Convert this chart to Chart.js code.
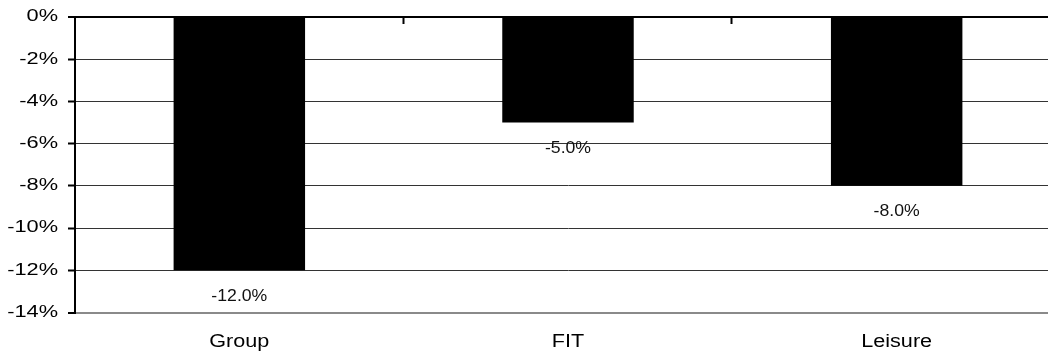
<!DOCTYPE html>
<html><head><meta charset="utf-8">
<script src="https://cdn.jsdelivr.net/npm/chart.js@4"></script>
<style>
html,body{margin:0;padding:0;background:#fff;overflow:hidden;}
#wrap{width:1061px;height:356px;position:relative;}
</style></head><body>
<div id="wrap"><canvas id="c"></canvas></div>
<script>
const categories = ['Group', 'FIT', 'Leisure'];
const changeValues = [-12.0, -5.0, -8.0];
const yMin = -14;
const yMax = 0;
const yStep = 2;

const AXIS_FONT = '"Liberation Sans", Arial, sans-serif';
const Y_FONT_SIZE = 16;
const X_FONT_SIZE = 18;
const LABEL_FONT_SIZE = 16.5;
// the reference text is horizontally stretched; widen glyphs per font size
const stretchBySize = { '16': 1.36, '18': 1.2, '16.5': 1.07 };

const canvas = document.getElementById('c');
const ctx2d = canvas.getContext('2d');
const origFillText = ctx2d.fillText.bind(ctx2d);
ctx2d.fillText = function (text, x, y, maxWidth) {
  const m = /(\d+(?:\.\d+)?)px/.exec(this.font);
  const sx = m ? (stretchBySize[String(parseFloat(m[1]))] || 1) : 1;
  this.save();
  this.translate(x, y);
  this.scale(sx, 1);
  if (maxWidth === undefined || maxWidth === null) origFillText(text, 0, 0);
  else origFillText(text, 0, 0, maxWidth / sx);
  this.restore();
};

const barLabels = {
  id: 'barLabels',
  afterDatasetsDraw(chart) {
    const ctx = chart.ctx;
    const meta = chart.getDatasetMeta(0);
    const data = chart.data.datasets[0].data;
    ctx.save();
    ctx.fillStyle = '#111';
    ctx.font = LABEL_FONT_SIZE + 'px "Liberation Sans", Arial, sans-serif';
    ctx.textAlign = 'center';
    ctx.textBaseline = 'middle';
    meta.data.forEach((bar, i) => {
      ctx.fillText(data[i].toFixed(1) + '%', bar.x, bar.y + 26);
    });
    ctx.restore();
  }
};

const topAxisTicks = {
  id: 'topAxisTicks',
  afterDraw(chart) {
    const ctx = chart.ctx;
    const xs = chart.scales.x;
    const ys = chart.scales.y;
    const y0 = ys.getPixelForValue(0);
    ctx.save();
    ctx.strokeStyle = '#000';
    ctx.lineWidth = 2;
    for (let i = 0; i < categories.length - 1; i++) {
      const bx = Math.round((xs.getPixelForValue(i) + xs.getPixelForValue(i + 1)) / 2) - 0.5;
      ctx.beginPath();
      ctx.moveTo(bx, y0);
      ctx.lineTo(bx, y0 + 7);
      ctx.stroke();
    }
    ctx.restore();
  }
};

new Chart(canvas, {
  type: 'bar',
  data: {
    labels: categories,
    datasets: [{
      data: changeValues,
      backgroundColor: '#000',
      borderWidth: 0,
      barPercentage: 0.4,
      categoryPercentage: 1.0
    }]
  },
  options: {
    responsive: true,
    maintainAspectRatio: false,
    animation: false,
    layout: { padding: { top: 17, right: 0, bottom: 0, left: 0 } },
    plugins: { legend: { display: false }, tooltip: { enabled: false } },
    scales: {
      x: {
        grid: { display: false, drawTicks: false },
        border: { display: true, color: '#8a8a8a', width: 2 },
        ticks: { color: '#000', font: { family: AXIS_FONT, size: X_FONT_SIZE }, padding: 19 },
        afterFit(s) { s.height = 43.5; s.paddingLeft = 0; s.paddingRight = 0; }
      },
      y: {
        min: yMin,
        max: yMax,
        ticks: {
          stepSize: yStep,
          color: '#000',
          font: { family: AXIS_FONT, size: Y_FONT_SIZE },
          padding: 10,
          callback: v => v + '%'
        },
        grid: {
          color: c => (c.tick && c.tick.value === 0) ? '#000' : (c.tick && c.tick.value === yMin ? '#8a8a8a' : '#333'),
          lineWidth: c => (c.tick && (c.tick.value === 0 || c.tick.value === yMin)) ? 2 : 1,
          tickColor: '#000',
          tickWidth: 2,
          tickLength: 7
        },
        border: { display: true, color: '#000', width: 2 },
        afterFit(s) { s.width = 75; s.paddingTop = 0; s.paddingBottom = 0; }
      }
    }
  },
  plugins: [barLabels, topAxisTicks]
});
</script>
</body></html>
